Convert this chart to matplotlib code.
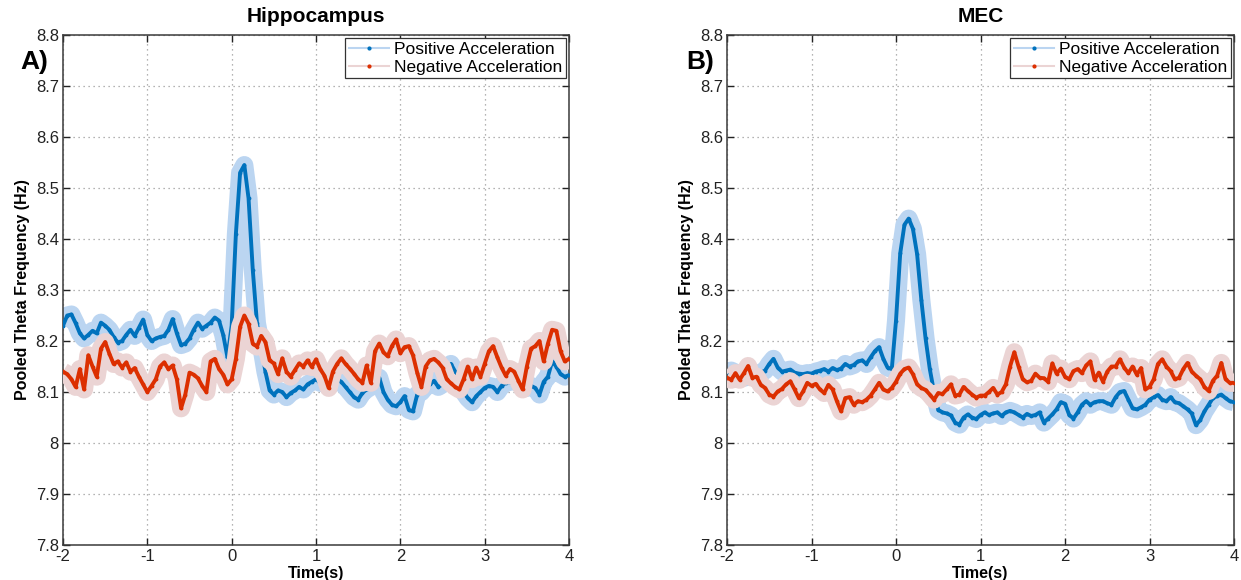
import numpy as np
import matplotlib
matplotlib.use("Agg")
import matplotlib.pyplot as plt
from matplotlib.lines import Line2D

plt.rcParams["font.family"] = ["Liberation Sans", "DejaVu Sans"]
plt.rcParams["axes.unicode_minus"] = False

# time axis (s), 50 ms bins
time_s = np.round(np.arange(-2.0, 4.0001, 0.05), 2)

# Hippocampus, positive acceleration (Hz)
hip_pos = [
    8.230, 8.250, 8.252, 8.235, 8.215, 8.205, 8.212, 8.220, 8.215, 8.236,
    8.230, 8.222, 8.208, 8.197, 8.200, 8.212, 8.222, 8.210, 8.226, 8.242,
    8.212, 8.200, 8.205, 8.208, 8.210, 8.222, 8.243, 8.215, 8.192, 8.195,
    8.205, 8.222, 8.236, 8.224, 8.230, 8.236, 8.246, 8.240, 8.212, 8.168,
    8.230, 8.410, 8.530, 8.545, 8.480, 8.340, 8.235, 8.190, 8.140, 8.103,
    8.095, 8.103, 8.100, 8.090, 8.098, 8.103, 8.110, 8.105, 8.115, 8.120,
    8.125, 8.118, 8.120, 8.110, 8.118, 8.125, 8.120, 8.110, 8.100, 8.090,
    8.085, 8.098, 8.105, 8.110, 8.118, 8.128, 8.100, 8.085, 8.075, 8.072,
    8.080, 8.092, 8.065, 8.062, 8.095, 8.100, 8.110, 8.115, 8.122, 8.110,
    8.115, 8.130, 8.155, 8.140, 8.115, 8.100, 8.088, 8.080, 8.092, 8.100,
    8.108, 8.112, 8.110, 8.100, 8.112, 8.118, 8.120, 8.122, 8.118, 8.110,
    8.108, 8.112, 8.108, 8.095, 8.120, 8.130, 8.160, 8.150, 8.135, 8.130,
    8.133,
]

# Hippocampus, negative acceleration (Hz)
hip_neg = [
    8.140, 8.135, 8.125, 8.110, 8.145, 8.105, 8.172, 8.150, 8.130, 8.185,
    8.198, 8.175, 8.155, 8.160, 8.148, 8.158, 8.140, 8.147, 8.130, 8.115,
    8.100, 8.112, 8.125, 8.150, 8.158, 8.145, 8.152, 8.125, 8.068, 8.095,
    8.138, 8.134, 8.127, 8.112, 8.100, 8.160, 8.165, 8.145, 8.134, 8.115,
    8.125, 8.165, 8.228, 8.250, 8.234, 8.195, 8.189, 8.210, 8.198, 8.162,
    8.156, 8.135, 8.166, 8.140, 8.130, 8.143, 8.156, 8.150, 8.162, 8.149,
    8.164, 8.145, 8.132, 8.108, 8.140, 8.155, 8.166, 8.155, 8.146, 8.136,
    8.125, 8.118, 8.152, 8.118, 8.180, 8.195, 8.178, 8.170, 8.190, 8.203,
    8.176, 8.188, 8.190, 8.172, 8.138, 8.110, 8.150, 8.162, 8.165, 8.158,
    8.148, 8.125, 8.117, 8.110, 8.105, 8.125, 8.150, 8.125, 8.148, 8.130,
    8.155, 8.180, 8.190, 8.168, 8.148, 8.132, 8.145, 8.140, 8.122, 8.105,
    8.150, 8.185, 8.190, 8.200, 8.160, 8.195, 8.222, 8.220, 8.180, 8.160,
    8.165,
]

# MEC, positive acceleration (Hz)
mec_pos = [
    8.140, 8.142, 8.138, 8.132, 8.128, 8.130, 8.132, 8.135, 8.138, 8.142,
    8.155, 8.165, 8.148, 8.140, 8.142, 8.144, 8.138, 8.136, 8.135, 8.137,
    8.136, 8.140, 8.142, 8.145, 8.140, 8.147, 8.143, 8.146, 8.155, 8.150,
    8.153, 8.160, 8.162, 8.155, 8.168, 8.180, 8.188, 8.165, 8.148, 8.145,
    8.240, 8.372, 8.428, 8.440, 8.420, 8.370, 8.280, 8.205, 8.145, 8.100,
    8.065, 8.060, 8.058, 8.054, 8.040, 8.036, 8.050, 8.056, 8.050, 8.047,
    8.055, 8.060, 8.055, 8.058, 8.060, 8.053, 8.060, 8.063, 8.060, 8.055,
    8.050, 8.057, 8.053, 8.055, 8.060, 8.040, 8.048, 8.056, 8.066, 8.080,
    8.077, 8.055, 8.048, 8.060, 8.075, 8.082, 8.075, 8.080, 8.082, 8.082,
    8.078, 8.075, 8.090, 8.100, 8.102, 8.085, 8.068, 8.066, 8.070, 8.075,
    8.085, 8.090, 8.094, 8.085, 8.082, 8.090, 8.080, 8.078, 8.072, 8.066,
    8.058, 8.035, 8.045, 8.062, 8.075, 8.088, 8.092, 8.095, 8.088, 8.082,
    8.080,
]

# MEC, negative acceleration (Hz)
mec_neg = [
    8.128, 8.124, 8.137, 8.124, 8.137, 8.151, 8.128, 8.130, 8.114, 8.108,
    8.095, 8.091, 8.101, 8.106, 8.115, 8.121, 8.105, 8.088, 8.101, 8.118,
    8.112, 8.116, 8.105, 8.098, 8.114, 8.105, 8.082, 8.062, 8.088, 8.090,
    8.075, 8.082, 8.080, 8.085, 8.093, 8.105, 8.118, 8.105, 8.101, 8.108,
    8.120, 8.136, 8.145, 8.148, 8.135, 8.115, 8.108, 8.104, 8.095, 8.085,
    8.098, 8.096, 8.105, 8.115, 8.093, 8.095, 8.110, 8.102, 8.095, 8.089,
    8.093, 8.093, 8.100, 8.108, 8.095, 8.100, 8.115, 8.150, 8.178, 8.150,
    8.125, 8.119, 8.122, 8.136, 8.128, 8.127, 8.120, 8.156, 8.136, 8.146,
    8.130, 8.125, 8.141, 8.145, 8.137, 8.152, 8.160, 8.124, 8.138, 8.120,
    8.140, 8.150, 8.150, 8.164, 8.148, 8.137, 8.150, 8.134, 8.147, 8.105,
    8.110, 8.125, 8.155, 8.164, 8.150, 8.141, 8.125, 8.128, 8.145, 8.157,
    8.140, 8.132, 8.125, 8.110, 8.102, 8.122, 8.132, 8.157, 8.125, 8.118,
    8.118,
]

panel_titles = ["Hippocampus", "MEC"]
panel_tags = ["A)", "B)"]
series_labels = ["Positive Acceleration", "Negative Acceleration"]
x_ticks = [-2, -1, 0, 1, 2, 3, 4]
y_ticks = [7.8, 7.9, 8.0, 8.1, 8.2, 8.3, 8.4, 8.5, 8.6, 8.7, 8.8]
y_tick_labels = ["7.8", "7.9", "8", "8.1", "8.2", "8.3", "8.4", "8.5", "8.6", "8.7", "8.8"]

BLUE = "#0072BD"
BLUE_BAND = "#BBD5F1"
RED = "#DC2F00"
RED_BAND = "#EBD4D4"


def draw_panel(ax, pos, neg, title, tag_x, tag):
    # each trace sits on a wide pale stroke that shows the error envelope
    for vals, line_c, band_c, z in ((pos, BLUE, BLUE_BAND, 2), (neg, RED, RED_BAND, 4)):
        ax.plot(time_s, vals, color=band_c, lw=13, solid_joinstyle="round",
                solid_capstyle="butt", zorder=z)
        ax.plot(time_s, vals, color=line_c, lw=2.8, marker=".", ms=3.5,
                solid_joinstyle="round", zorder=z + 1)

    ax.set_xlim(-2, 4)
    ax.set_ylim(7.8, 8.8)
    ax.set_xticks(x_ticks)
    ax.set_yticks(y_ticks)
    ax.set_yticklabels(y_tick_labels)
    ax.grid(True, linestyle=(0, (1, 3)), color="#9a9a9a", lw=0.9)
    ax.set_axisbelow(True)
    ax.tick_params(direction="in", length=5, width=1, top=True, right=True,
                   labelsize=12, pad=3, colors="#222222")
    for s in ax.spines.values():
        s.set_color("#3a3a3a")
        s.set_linewidth(1.1)
    ax.set_title(title, fontsize=15, fontweight="bold", pad=9)
    ax.set_xlabel("Time(s)", fontsize=11.5, fontweight="bold", labelpad=1)
    ax.set_ylabel("Pooled Theta Frequency (Hz)", fontsize=11.5, fontweight="bold", labelpad=4)

    handles = [
        Line2D([], [], color=BLUE_BAND, lw=1.5, marker=".", ms=4,
               markerfacecolor=BLUE, markeredgecolor=BLUE),
        Line2D([], [], color=RED_BAND, lw=1.5, marker=".", ms=4,
               markerfacecolor=RED, markeredgecolor=RED),
    ]
    leg = ax.legend(handles, series_labels, loc="upper right", fontsize=12.5,
                    frameon=True, fancybox=False, edgecolor="#333333",
                    framealpha=1, borderpad=0.2, labelspacing=0.15,
                    handlelength=2.3, handletextpad=0.3, borderaxespad=0.2)
    leg.get_frame().set_linewidth(0.9)
    ax.figure.text(tag_x, 1 - 62 / 580, tag, fontsize=19, fontweight="bold",
                   ha="left", va="center")


fig = plt.figure(figsize=(12.41, 5.80), dpi=100)
ax_a = fig.add_axes([63 / 1241, 1 - 545 / 580, 506 / 1241, 510 / 580])
ax_b = fig.add_axes([727 / 1241, 1 - 545 / 580, 507 / 1241, 510 / 580])

draw_panel(ax_a, hip_pos, hip_neg, panel_titles[0], 20 / 1241, panel_tags[0])
draw_panel(ax_b, mec_pos, mec_neg, panel_titles[1], 686 / 1241, panel_tags[1])

fig.savefig("out.png", dpi=100, facecolor="white")
